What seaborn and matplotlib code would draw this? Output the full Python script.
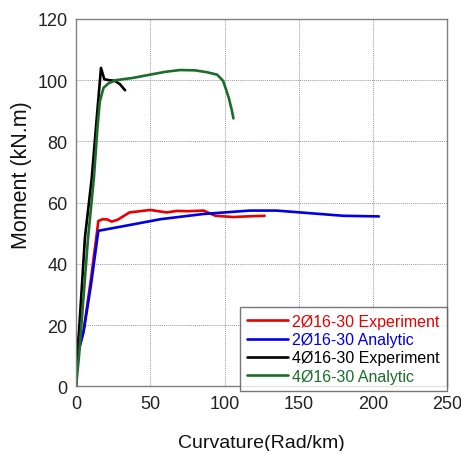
import numpy as np
import pandas as pd
import matplotlib
matplotlib.use("Agg")
import matplotlib.pyplot as plt
import seaborn as sns

# Data (curvature Rad/km, moment kN.m)
exp2_x = [0, 0.5, 2, 5, 10, 14, 15, 18, 21, 24, 28, 36, 50, 61, 68, 75, 86, 90, 94, 106, 115, 127]
exp2_y = [0, 9, 12, 18, 35, 50, 54, 54.6, 54.5, 53.8, 54.4, 56.8, 57.6, 56.8, 57.3, 57.2, 57.4, 56.5, 55.7, 55.3, 55.5, 55.7]

ana2_x = [0, 5, 10, 15, 34, 57, 86, 117, 135, 151, 180, 204]
ana2_y = [9, 17.7, 33, 50.8, 52.5, 54.6, 56.3, 57.4, 57.4, 56.8, 55.7, 55.5]

exp4_x = [0, 0.5, 2, 6, 10.5, 14, 16.8, 19, 22, 26, 29.5, 33]
exp4_y = [0, 10, 18, 48.7, 67.7, 88, 104, 100.3, 100, 99.8, 98.7, 96.7]

ana4_x = [0, 2, 8, 12, 14.5, 16, 18.5, 22, 27, 38, 50, 60, 70, 80, 88, 95, 99, 101, 103, 105, 106]
ana4_y = [0, 10, 48, 68, 85, 93, 97.5, 99, 100, 100.7, 101.8, 102.7, 103.3, 103.2, 102.6, 101.8, 99.8, 97, 94, 90, 87.5]

labels = ["2Ø16-30 Experiment", "2Ø16-30 Analytic", "4Ø16-30 Experiment", "4Ø16-30 Analytic"]
colors = ["#e60000", "#0000e6", "#000000", "#1a6e2a"]

frames = []
for lab, xs, ys in zip(labels, [exp2_x, ana2_x, exp4_x, ana4_x], [exp2_y, ana2_y, exp4_y, ana4_y]):
    frames.append(pd.DataFrame({"x": xs, "y": ys, "series": lab}))
df = pd.concat(frames, ignore_index=True)

sns.set_style("white")
plt.rcParams["font.family"] = ["Liberation Sans", "DejaVu Sans"]

fig = plt.figure(figsize=(4.61, 4.52), dpi=100)
ax = fig.add_axes([0.165, 0.143, 0.805, 0.813])

sns.lineplot(data=df, x="x", y="y", hue="series", hue_order=labels,
             palette=dict(zip(labels, colors)), sort=False, estimator=None,
             units="series", linewidth=1.9, ax=ax, legend=True)

ax.set_xlim(0, 250)
ax.set_ylim(0, 120)
ax.set_xticks([0, 50, 100, 150, 200, 250])
ax.set_yticks([0, 20, 40, 60, 80, 100, 120])
ax.tick_params(labelsize=13, length=0, pad=6, colors="#222222")
ax.grid(True, linestyle=(0, (1, 1)), color="#9a9a9a", linewidth=0.7)
for s in ax.spines.values():
    s.set_color("#808080")
    s.set_linewidth(1.0)
ax.set_xlabel("Curvature(Rad/km)", fontsize=14, labelpad=16, color="#111111")
ax.set_ylabel("Moment (kN.m)", fontsize=15.5, color="#111111")
ax.yaxis.set_label_coords(-0.119, 0.578)

leg = ax.legend(loc="lower right", bbox_to_anchor=(1.0, -0.012), fontsize=11.5,
                frameon=True, fancybox=False, edgecolor="#555555",
                handlelength=2.6, handletextpad=0.25, borderpad=0.45,
                labelspacing=0.2, borderaxespad=0.0)
leg.get_frame().set_linewidth(1.0)
for t, c in zip(leg.get_texts(), colors):
    t.set_color(c)
for h in leg.get_lines():
    h.set_linewidth(1.9)

fig.savefig("out.png", dpi=100)
